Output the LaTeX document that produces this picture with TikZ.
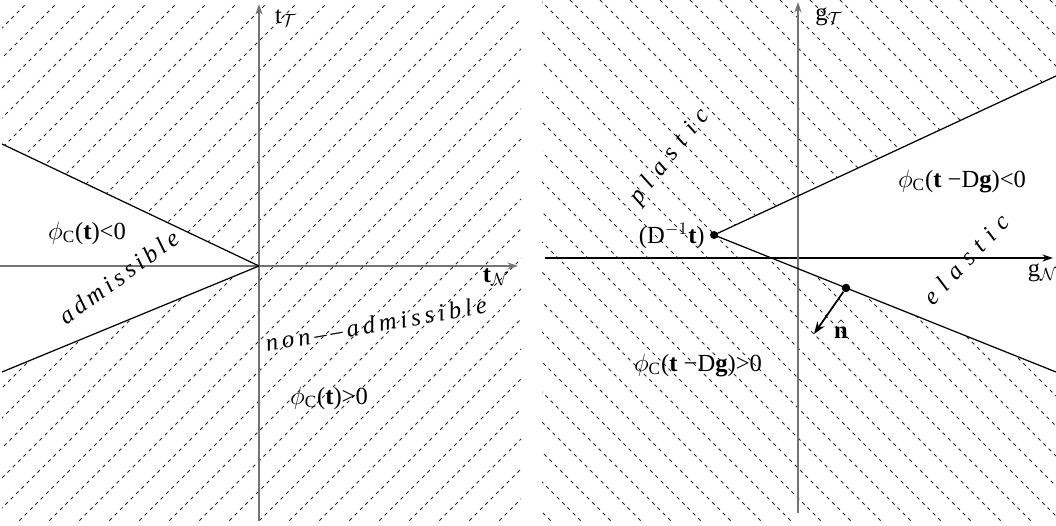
\documentclass[tikz,border=0pt]{standalone}
\usepackage{fontspec}
\setmainfont{Liberation Serif}
\usetikzlibrary{arrows.meta}

\tikzset{
  hatch/.style={dash pattern=on 2pt off 2.3pt, line width=0.45pt, black!85},
  axis/.style={-{Stealth[length=6pt,width=4pt]}, line width=0.9pt, black!55},
  cone/.style={line width=0.7pt},
  lbl/.style={font=\fontsize{14}{16}\selectfont, inner sep=0pt},
  spaced/.style={font=\fontsize{14}{16}\selectfont\itshape, inner sep=0pt},
}

\begin{document}
\begin{tikzpicture}[x=0.02cm,y=-0.02cm]
\useasboundingbox (0,0) rectangle (1056,526);
% hatching, left half
\begin{scope}
  \clip (2,4) rectangle (521,523);
  \foreach \c in {0,30,...,1080}{
    \draw[hatch] (\c,0) -- ++(-560,560);
  }
\end{scope}
% hatching, right half
\begin{scope}
  \clip (542,0) rectangle (1056,521);
  \foreach \c in {0,30,...,1080}{
    \draw[hatch] (\c,0) -- ++(560,560);
  }
\end{scope}

% left: admissible cone
\coordinate (O1) at (259,266);
\coordinate (A1) at (2,144);
\coordinate (B1) at (2,372);
\fill[white] (O1) -- (A1) -- (B1) -- cycle;
\coordinate (X1a) at (0,266);
\coordinate (X1b) at (518,266);
\coordinate (Y1a) at (259,521);
\coordinate (Y1b) at (259,4);
\draw[axis] (X1a) -- (X1b);
\draw[axis] (Y1a) -- (Y1b);
\draw[cone] (O1) -- (A1);
\draw[cone] (O1) -- (B1);

\node[lbl] (tT) at (286,18) {t$_{\mathcal{T}}$};
\node[lbl] (tN) at (496,277) {\textbf{t}$_{\mathcal{N}}$};
\node[lbl] (inside1) at (87,233) {$\phi_{\mathrm{C}}$(\textbf{t})<0};
\node[lbl] (outside1) at (329,398) {$\phi_{\mathrm{C}}$(\textbf{t})>0};
\node[spaced, rotate=36] (adm) at (119,277) {a\,d\,m\,i\,s\,s\,i\,b\,l\,e};
\node[spaced, rotate=10] (nonadm) at (376,324) {n\,o\,n\,--\,--\,a\,d\,m\,i\,s\,s\,i\,b\,l\,e};

% right: elastic cone
\coordinate (V) at (714,235);
\coordinate (A2) at (1056,76);
\coordinate (B2) at (1056,372);
\fill[white] (V) -- (A2) -- (B2) -- cycle;
\coordinate (X2a) at (545,258);
\coordinate (X2b) at (1053,258);
\coordinate (Y2a) at (798,513);
\coordinate (Y2b) at (798,2);
\draw[axis, black] (X2a) -- (X2b);
\draw[axis] (Y2a) -- (Y2b);
\draw[cone] (V) -- (A2);
\draw[cone] (V) -- (B2);
\fill (V) circle (4);

\node[lbl] (gT) at (829,17) {g$_{\mathcal{T}}$};
\node[lbl] (gN) at (1043,273) {g$_{\mathcal{N}}$};
\node[lbl, anchor=east] (Dt) at (705,236) {(D$^{-1}$\textbf{t})};
\node[lbl] (inside2) at (962,181) {$\phi_{\mathrm{C}}$(\textbf{t} −D\textbf{g})<0};
\node[lbl] (outside2) at (698,365) {$\phi_{\mathrm{C}}$(\textbf{t} −D\textbf{g})>0};
\node[spaced, rotate=52] (plas) at (670,157) {p\,\,l\,\,a\,\,s\,\,t\,\,i\,\,c};
\node[spaced, rotate=47] (elas) at (966,259) {e\,\,l\,\,a\,\,s\,\,t\,\,i\,\,c};

\node[circle, fill, inner sep=0pt, minimum size=0.17cm] (P) at (846,288) {};
\coordinate (N) at (814,334);
\draw[-{Stealth[length=7pt,width=5pt]}, line width=1pt] (P) -- (N);
\node[lbl] (nhat) at (841,329) {$\hat{\textbf{n}}$};
\end{tikzpicture}
\end{document}
